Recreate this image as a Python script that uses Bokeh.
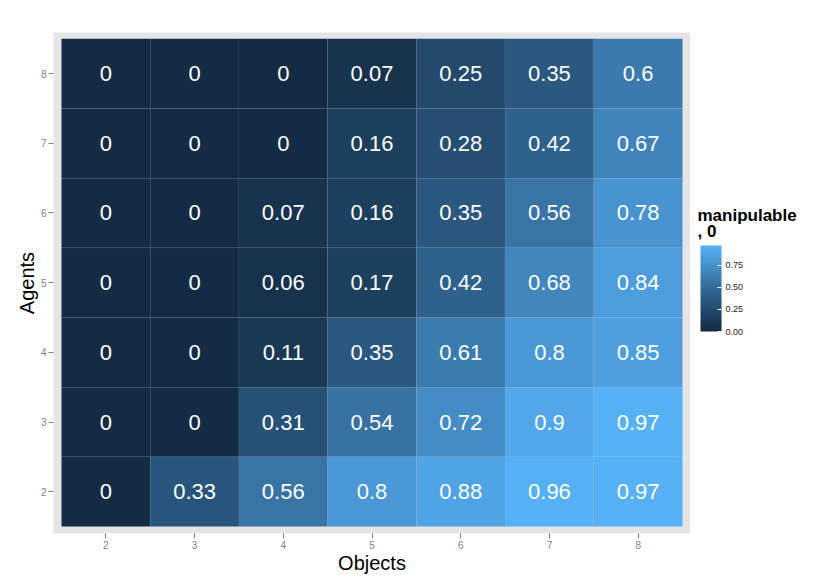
from bokeh.plotting import figure
from bokeh.layouts import row
from bokeh.models import (ColumnDataSource, LinearColorMapper, ColorBar, FixedTicker,
                          NumeralTickFormatter, Range1d, Label)
from bokeh.core.properties import value
from bokeh.embed import file_html
from bokeh.resources import INLINE

# ---- data ----
objects = [2, 3, 4, 5, 6, 7, 8]
agents = [2, 3, 4, 5, 6, 7, 8]
row_agents_2 = [0, 0.33, 0.56, 0.8, 0.88, 0.96, 0.97]
row_agents_3 = [0, 0, 0.31, 0.54, 0.72, 0.9, 0.97]
row_agents_4 = [0, 0, 0.11, 0.35, 0.61, 0.8, 0.85]
row_agents_5 = [0, 0, 0.06, 0.17, 0.42, 0.68, 0.84]
row_agents_6 = [0, 0, 0.07, 0.16, 0.35, 0.56, 0.78]
row_agents_7 = [0, 0, 0, 0.16, 0.28, 0.42, 0.67]
row_agents_8 = [0, 0, 0, 0.07, 0.25, 0.35, 0.6]
rows = [row_agents_2, row_agents_3, row_agents_4, row_agents_5,
        row_agents_6, row_agents_7, row_agents_8]
legend_ticks = [0.0, 0.25, 0.5, 0.75]
legend_title_lines = ["manipulable", ", 0"]
low_color = "#132B43"
high_color = "#56B1F7"

# ---- Lab-space gradient (like ggplot's seq_gradient) ----
def hex_to_rgb(h):
    h = h.lstrip("#")
    return [int(h[i:i + 2], 16) / 255 for i in (0, 2, 4)]

def srgb_to_lin(c):
    return c / 12.92 if c <= 0.04045 else ((c + 0.055) / 1.055) ** 2.4

def lin_to_srgb(c):
    c = max(0.0, min(1.0, c))
    return 12.92 * c if c <= 0.0031308 else 1.055 * c ** (1 / 2.4) - 0.055

WX, WY, WZ = 0.95047, 1.0, 1.08883

def f(t):
    return t ** (1 / 3) if t > 216 / 24389 else (24389 / 27 * t + 16) / 116

def finv(t):
    return t ** 3 if t ** 3 > 216 / 24389 else (116 * t - 16) / (24389 / 27)

def to_lab(h):
    r, g, b = [srgb_to_lin(c) for c in hex_to_rgb(h)]
    X = 0.4124 * r + 0.3576 * g + 0.1805 * b
    Y = 0.2126 * r + 0.7152 * g + 0.0722 * b
    Z = 0.0193 * r + 0.1192 * g + 0.9505 * b
    fx, fy, fz = f(X / WX), f(Y / WY), f(Z / WZ)
    return (116 * fy - 16, 500 * (fx - fy), 200 * (fy - fz))

def from_lab(L, a, bb):
    fy = (L + 16) / 116
    fx = fy + a / 500
    fz = fy - bb / 200
    X, Y, Z = WX * finv(fx), WY * finv(fy), WZ * finv(fz)
    r = 3.2406 * X - 1.5372 * Y - 0.4986 * Z
    g = -0.9689 * X + 1.8758 * Y + 0.0415 * Z
    b = 0.0557 * X - 0.2040 * Y + 1.0570 * Z
    return "#%02x%02x%02x" % tuple(int(round(lin_to_srgb(c) * 255)) for c in (r, g, b))

l0, l1 = to_lab(low_color), to_lab(high_color)
palette = [from_lab(*[l0[k] + (l1[k] - l0[k]) * i / 255 for k in range(3)]) for i in range(256)]

xs, ys, vals, labels = [], [], [], []
for ag, rw in zip(agents, rows):
    for ob, v in zip(objects, rw):
        xs.append(ob)
        ys.append(ag)
        vals.append(v)
        labels.append("%g" % v)
src = ColumnDataSource(dict(x=xs, y=ys, v=vals, lab=labels))

mapper = LinearColorMapper(palette=palette, low=min(vals), high=max(vals))

# ---- main heatmap ----
p = figure(width=690, height=580, output_backend="svg", toolbar_location=None,
           x_range=Range1d(1.41, 8.59), y_range=Range1d(1.40, 8.59),
           min_border_left=53, min_border_right=0, min_border_top=32, min_border_bottom=47)
p.background_fill_color = "#E5E5E5"
p.border_fill_color = "white"
p.outline_line_color = None
p.grid.grid_line_color = None

p.rect(x="x", y="y", width=1, height=1, source=src,
       fill_color={"field": "v", "transform": mapper},
       line_color="#E5E5E5", line_alpha=0.03, line_width=1)
p.text(x="x", y="y", text="lab", source=src, text_color="white",
       text_align="center", text_baseline="middle",
       text_font=value("Liberation Sans"), text_font_size="22px")

for ax in (p.xaxis[0], p.yaxis[0]):
    ax.ticker = FixedTicker(ticks=objects)
    ax.axis_line_color = None
    ax.major_tick_line_color = "#7F7F7F"
    ax.major_tick_out = 5
    ax.major_tick_in = 0
    ax.minor_tick_line_color = None
    ax.major_label_text_color = "#7F7F7F"
    ax.major_label_text_font = "Liberation Sans"
    ax.major_label_text_font_size = "10px"
    ax.major_label_standoff = 2
    ax.axis_label_text_font = "Liberation Sans"
    ax.axis_label_text_font_size = "20px"
    ax.axis_label_text_font_style = "normal"
    ax.axis_label_text_color = "black"
p.yaxis[0].ticker = FixedTicker(ticks=agents)
p.xaxis.axis_label = "Objects"
p.yaxis.axis_label = "Agents"
p.xaxis.axis_label_standoff = 0
p.yaxis.axis_label_standoff = 0
p.yaxis.major_label_orientation = "horizontal"

# ---- legend panel ----
lg = figure(width=132, height=580, output_backend="svg", toolbar_location=None,
            x_range=Range1d(0, 132), y_range=Range1d(0, 580),
            x_axis_type=None, y_axis_type=None,
            min_border_left=0, min_border_right=0, min_border_top=0, min_border_bottom=0)
lg.outline_line_color = None
lg.grid.grid_line_color = None
lg.background_fill_color = "white"
lg.border_fill_color = "white"

cb = ColorBar(color_mapper=mapper, width=21, height=86, padding=0,
              location=(10, 202),
              ticker=FixedTicker(ticks=legend_ticks),
              formatter=NumeralTickFormatter(format="0.00"),
              major_label_text_font="Liberation Sans",
              major_label_text_font_size="9px",
              major_label_text_color="#1a1a1a",
              major_tick_line_color="white", major_tick_in=4, major_tick_out=0,
              label_standoff=4, bar_line_color=None, border_line_color=None,
              background_fill_color=None)
lg.add_layout(cb, "center")

for line, ypos in zip(legend_title_lines, [368, 350]):
    lg.add_layout(Label(x=7, y=ypos, text=line,
                        text_font="Liberation Sans", text_font_size="17px",
                        text_font_style="bold", text_color="black",
                        text_baseline="alphabetic", text_align="left"))

layout = row(p, lg, spacing=0)
open("out.html", "w").write(file_html(layout, INLINE))
